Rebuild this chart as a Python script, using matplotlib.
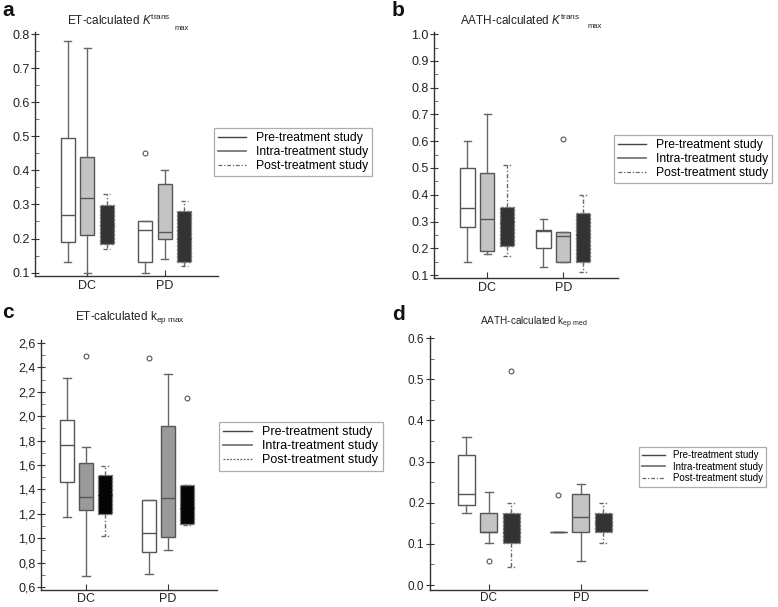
import matplotlib
matplotlib.use("Agg")
import matplotlib.pyplot as plt
from matplotlib.lines import Line2D
from matplotlib.ticker import MultipleLocator, FuncFormatter

plt.rcParams['font.family'] = ['Liberation Sans', 'DejaVu Sans']
plt.rcParams['mathtext.fontset'] = 'custom'
plt.rcParams['mathtext.rm'] = 'Liberation Sans'
plt.rcParams['mathtext.it'] = 'Liberation Sans:italic'

groups = ["DC", "PD"]
studies = ["Pre-treatment study", "Intra-treatment study", "Post-treatment study"]

# ---- panel a: ET-calculated Ktrans max  (rows: DC, PD; cols: pre, intra, post)
a_lo  = [[0.13, 0.10, 0.17], [0.10, 0.14, 0.12]]
a_q1  = [[0.19, 0.21, 0.185], [0.13, 0.20, 0.13]]
a_med = [[0.27, 0.32, 0.24], [0.225, 0.22, 0.20]]
a_q3  = [[0.495, 0.44, 0.297], [0.25, 0.36, 0.28]]
a_hi  = [[0.78, 0.76, 0.33], [0.25, 0.40, 0.31]]
a_fl  = [[[], [], []], [[0.45], [], []]]

# ---- panel b: AATH-calculated Ktrans max
b_lo  = [[0.15, 0.18, 0.17], [0.13, 0.15, 0.11]]
b_q1  = [[0.28, 0.19, 0.21], [0.20, 0.15, 0.15]]
b_med = [[0.35, 0.31, 0.30], [0.265, 0.245, 0.25]]
b_q3  = [[0.50, 0.48, 0.355], [0.27, 0.26, 0.33]]
b_hi  = [[0.60, 0.70, 0.51], [0.31, 0.26, 0.40]]
b_fl  = [[[], [], []], [[], [0.61], []]]

# ---- panel c: ET-calculated kep max
c_lo  = [[1.17, 0.69, 1.02], [0.71, 0.90, 1.11]]
c_q1  = [[1.46, 1.23, 1.195], [0.89, 1.01, 1.115]]
c_med = [[1.76, 1.34, 1.35], [1.045, 1.33, 1.25]]
c_q3  = [[1.965, 1.615, 1.515], [1.31, 1.92, 1.44]]
c_hi  = [[2.31, 1.75, 1.59], [1.31, 2.35, 1.44]]
c_fl  = [[[], [2.49], []], [[2.48], [], [2.15]]]

# ---- panel d: AATH-calculated kep med
d_lo  = [[0.175, 0.103, 0.043], [0.13, 0.058, 0.103]]
d_q1  = [[0.195, 0.13, 0.103], [0.13, 0.13, 0.13]]
d_med = [[0.22, 0.13, 0.13], [0.13, 0.165, 0.15]]
d_q3  = [[0.317, 0.175, 0.175], [0.13, 0.22, 0.175]]
d_hi  = [[0.36, 0.225, 0.20], [0.13, 0.245, 0.20]]
d_fl  = [[[], [0.058], [0.52]], [[0.218], [], []]]

W, H = 778, 607
fig = plt.figure(figsize=(W / 100, H / 100), dpi=100)

EDGE = '#555555'


def px_axes(l, r, t, b):
    return fig.add_axes([l / W, 1 - b / H, (r - l) / W, (b - t) / H])


def draw_panel(ax, lo, q1, med, q3, hi, fl, faces, offset, width, xlim, ylim,
               major, minor, comma=False, fs=9, xpad=3):
    for j in range(3):
        stats = []
        pos = []
        for i in range(2):
            stats.append(dict(med=med[i][j], q1=q1[i][j], q3=q3[i][j],
                              whislo=lo[i][j], whishi=hi[i][j], fliers=fl[i][j]))
            pos.append(i + 1 + (j - 1) * offset)
        post = (j == 2)
        ls = (0, (1.5, 1.2)) if post else '-'
        wls = (0, (3, 1.5, 1, 1.5)) if post else '-'
        ax.bxp(stats, positions=pos, widths=width, capwidths=width * 0.5,
               patch_artist=True,
               boxprops=dict(facecolor=faces[j], edgecolor=EDGE if not post else '#777777',
                             linewidth=1.0, linestyle=ls),
               medianprops=dict(color='#555555' if not post else faces[j], linewidth=1.0),
               whiskerprops=dict(color='#666666', linewidth=1.0, linestyle=wls),
               capprops=dict(color='#666666', linewidth=1.0, linestyle=wls if post else '-'),
               flierprops=dict(marker='o', markersize=3.5, markerfacecolor='none',
                               markeredgecolor='#555555', markeredgewidth=0.8),
               manage_ticks=False)
    ax.set_xlim(*xlim)
    ax.set_ylim(*ylim)
    ax.set_xticks([1, 2])
    ax.set_xticklabels(groups, fontsize=fs)
    ax.yaxis.set_major_locator(MultipleLocator(major))
    ax.yaxis.set_minor_locator(MultipleLocator(minor))
    if comma:
        ax.yaxis.set_major_formatter(FuncFormatter(lambda v, p: f"{v:.1f}".replace('.', ',')))
    else:
        ax.yaxis.set_major_formatter(FuncFormatter(lambda v, p: f"{v:.1f}"))
    for s in ('top', 'right'):
        ax.spines[s].set_visible(False)
    for s in ('left', 'bottom'):
        ax.spines[s].set_color('#333333')
        ax.spines[s].set_linewidth(1.0)
    ax.tick_params(axis='y', which='major', direction='inout', length=6, width=0.8,
                   labelsize=fs, colors='#333333', labelcolor='#222222', pad=1)
    ax.tick_params(axis='y', which='minor', direction='in', length=3, width=0.6, colors='#555555')
    ax.tick_params(axis='x', which='major', direction='in', length=4, width=0.8,
                   labelsize=fs, colors='#333333', labelcolor='#222222', pad=xpad)


def add_legend(ax, x0, y0, fs, post_style=(0, (3, 1.5, 1, 1.5))):
    handles = [Line2D([], [], color='#444444', lw=1.0),
               Line2D([], [], color='#777777', lw=1.3),
               Line2D([], [], color='#666666', lw=0.9, linestyle=post_style)]
    leg = ax.legend(handles, studies, loc='upper left',
                    bbox_to_anchor=(x0 / W, 1 - y0 / H), bbox_transform=fig.transFigure,
                    fontsize=fs, frameon=True, fancybox=False, handlelength=2.3,
                    handletextpad=0.8, borderpad=0.35, labelspacing=0.15,
                    borderaxespad=0)
    leg.get_frame().set_edgecolor('#999999')
    leg.get_frame().set_linewidth(0.9)


# panel a
ax_a = px_axes(35, 218, 32, 276)
draw_panel(ax_a, a_lo, a_q1, a_med, a_q3, a_hi, a_fl,
           ['white', '#c4c4c4', '#333333'], 0.253, 0.18, (0.325, 2.69), (0.09, 0.806), 0.1, 0.05)
add_legend(ax_a, 214, 128, 8.7)

# panel b
ax_b = px_axes(434, 618, 32, 278)
draw_panel(ax_b, b_lo, b_q1, b_med, b_q3, b_hi, b_fl,
           ['white', '#c4c4c4', '#333333'], 0.26, 0.19, (0.30, 2.72), (0.089, 1.008), 0.1, 0.05)
add_legend(ax_b, 614, 135, 8.7)

# panel c
ax_c = px_axes(41, 217, 340, 590)
draw_panel(ax_c, c_lo, c_q1, c_med, c_q3, c_hi, c_fl,
           ['white', '#9a9a9a', '#050505'], 0.232, 0.18, (0.45, 2.6), (0.575, 2.625), 0.2, 0.1,
           comma=True, xpad=2)
add_legend(ax_c, 219, 422, 9.0, post_style=(0, (1.5, 1.2)))

# panel d
ax_d = px_axes(430, 647, 336, 590)
draw_panel(ax_d, d_lo, d_q1, d_med, d_q3, d_hi, d_fl,
           ['white', '#c4c4c4', '#333333'], 0.245, 0.185, (0.36, 2.72), (-0.012, 0.605), 0.1, 0.05,
           fs=8.5, xpad=1.5)
add_legend(ax_d, 639, 447, 7.0)

# titles
def ptext(x, y, s, **kw):
    fig.text(x / W, 1 - y / H, s, **kw)

ptext(67, 20, r"ET-calculated $\mathit{K}^{\mathrm{trans}}$", fontsize=8.5, va='center', color='#222222')
ptext(175, 28, "max", fontsize=5.5, va='center', color='#222222')
ptext(460, 20, r"AATH-calculated $\mathit{K}^{\mathrm{trans}}$", fontsize=8.5, va='center', color='#222222')
ptext(588, 27, "max", fontsize=5.5, va='center', color='#222222')
ptext(75, 318, r"ET-calculated k$_{\mathrm{ep\ max}}$", fontsize=8.5, va='center', color='#222222')
ptext(480, 323, r"AATH-calculated k$_{\mathrm{ep\ med}}$", fontsize=7.2, va='center', color='#222222')

# panel letters
for lbl, x, y in [('a', 2, 10), ('b', 392, 10), ('c', 2, 312), ('d', 392, 315)]:
    ptext(x, y, lbl, fontsize=15, fontweight='bold', va='center', color='#111111')

fig.savefig('out.png', dpi=100)
